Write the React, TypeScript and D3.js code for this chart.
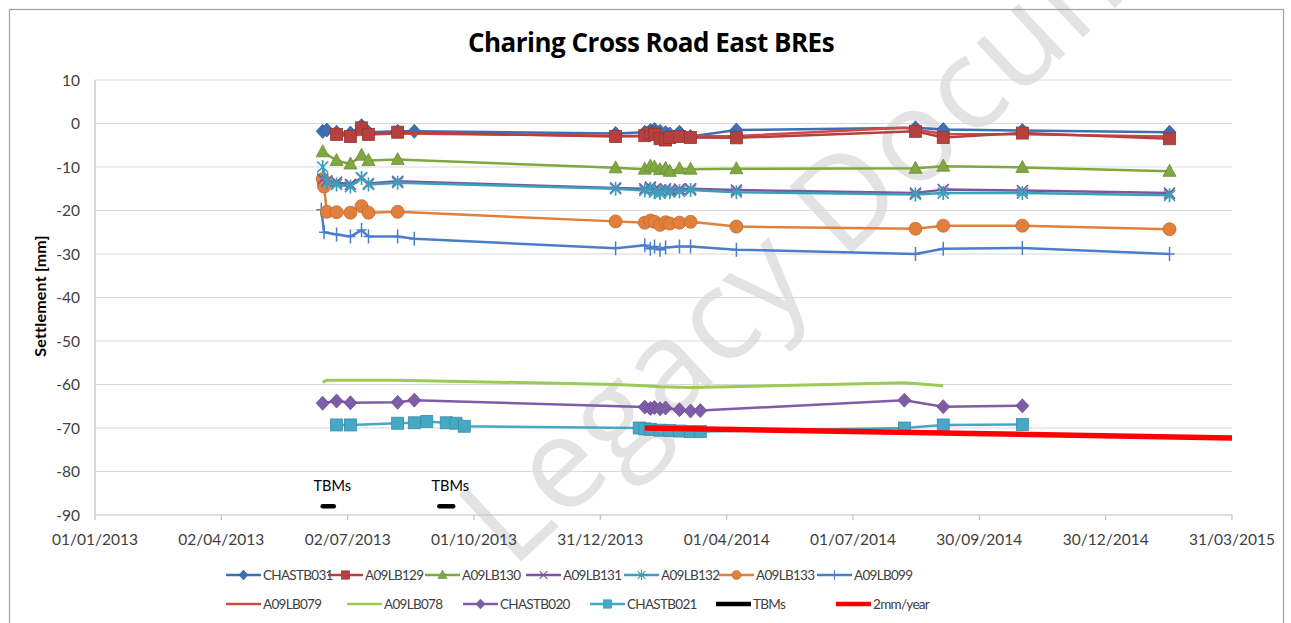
import React from "react";
import * as d3 from "d3";

// ---------- DATA ----------
const xTickStart = "2013-01-01";
const xTickStepDays = 91;
const xTickCount = 10;
const yTicks = [10, 0, -10, -20, -30, -40, -50, -60, -70, -80, -90];

const CHASTB031_dates = ["2013-06-14","2013-06-17","2013-06-24","2013-07-04","2013-07-12","2013-07-17","2013-08-07","2013-08-19","2014-01-11","2014-02-01","2014-02-05","2014-02-08","2014-02-12","2014-02-16","2014-02-19","2014-02-26","2014-03-06","2014-04-08","2014-08-15","2014-09-04","2014-10-31","2015-02-14"];
const CHASTB031_vals = [-1.8,-1.5,-2.0,-2.2,-0.5,-2.0,-1.8,-1.8,-2.3,-2.0,-1.6,-1.4,-1.8,-2.1,-2.4,-2.0,-3.0,-1.5,-1.0,-1.4,-1.6,-2.0];

const A09LB129_dates = ["2013-06-24","2013-07-04","2013-07-12","2013-07-17","2013-08-07","2014-01-11","2014-02-01","2014-02-05","2014-02-08","2014-02-12","2014-02-16","2014-02-19","2014-02-26","2014-03-06","2014-04-08","2014-08-15","2014-09-04","2014-10-31","2015-02-14"];
const A09LB129_vals = [-2.5,-3.0,-1.0,-2.5,-2.0,-3.0,-2.8,-2.2,-2.5,-3.5,-3.8,-3.2,-3.0,-3.2,-3.3,-1.8,-3.2,-2.2,-3.5];

const A09LB130_dates = ["2013-06-14","2013-06-24","2013-07-04","2013-07-12","2013-07-17","2013-08-07","2014-01-11","2014-02-01","2014-02-05","2014-02-08","2014-02-12","2014-02-16","2014-02-19","2014-02-26","2014-03-06","2014-04-08","2014-08-15","2014-09-04","2014-10-31","2015-02-14"];
const A09LB130_vals = [-6.5,-8.5,-9.3,-7.3,-8.5,-8.3,-10.2,-10.5,-9.8,-10.0,-10.6,-10.3,-11.0,-10.4,-10.5,-10.4,-10.3,-9.8,-10.1,-11.0];

const A09LB131_dates = ["2013-06-14","2013-06-17","2013-06-24","2013-07-04","2013-07-12","2013-07-17","2013-08-07","2014-01-11","2014-02-01","2014-02-05","2014-02-08","2014-02-12","2014-02-16","2014-02-19","2014-02-26","2014-03-06","2014-04-08","2014-08-15","2014-09-04","2014-10-31","2015-02-14"];
const A09LB131_vals = [-12.8,-13.2,-13.5,-14.0,-12.5,-13.8,-13.3,-14.8,-15.0,-14.6,-15.2,-15.4,-15.0,-15.3,-15.1,-15.0,-15.3,-16.0,-15.2,-15.4,-16.0];

const A09LB132_dates = A09LB131_dates;
const A09LB132_vals = [-10.0,-13.5,-14.0,-14.5,-12.5,-14.0,-13.6,-15.0,-15.4,-15.0,-15.8,-16.0,-15.5,-15.8,-15.6,-15.3,-15.8,-16.3,-16.0,-16.0,-16.5];

const A09LB133_dates = ["2013-06-14","2013-06-15","2013-06-17","2013-06-24","2013-07-04","2013-07-12","2013-07-17","2013-08-07","2014-01-11","2014-02-01","2014-02-05","2014-02-08","2014-02-12","2014-02-16","2014-02-19","2014-02-26","2014-03-06","2014-04-08","2014-08-15","2014-09-04","2014-10-31","2015-02-14"];
const A09LB133_vals = [-12.8,-14.5,-20.3,-20.4,-20.5,-19.0,-20.5,-20.3,-22.5,-22.8,-22.3,-22.6,-23.3,-22.7,-23.0,-22.8,-22.6,-23.7,-24.2,-23.5,-23.5,-24.3];

const A09LB099_dates = ["2013-06-13","2013-06-15","2013-06-24","2013-07-04","2013-07-12","2013-07-17","2013-08-07","2013-08-19","2014-01-11","2014-02-01","2014-02-05","2014-02-08","2014-02-12","2014-02-16","2014-02-26","2014-03-06","2014-04-08","2014-08-15","2014-09-04","2014-10-31","2015-02-14"];
const A09LB099_vals = [-19.8,-25.0,-25.5,-26.0,-24.5,-26.0,-26.0,-26.5,-28.7,-28.0,-28.8,-28.3,-29.0,-28.5,-28.3,-28.3,-29.0,-30.0,-28.8,-28.6,-30.0];

const A09LB079_dates = ["2013-06-24","2013-08-07","2014-01-11","2014-02-05","2014-02-19","2014-03-06","2014-04-08","2014-08-07","2014-09-04","2014-10-31","2015-02-14"];
const A09LB079_vals = [-2.8,-2.3,-2.8,-3.0,-3.2,-3.0,-2.9,-1.0,-2.4,-2.5,-3.0];

const A09LB078_dates = ["2013-06-14","2013-06-17","2013-08-07","2014-01-11","2014-02-01","2014-02-12","2014-03-06","2014-08-07","2014-09-04"];
const A09LB078_vals = [-59.5,-59.0,-59.0,-60.0,-60.3,-60.5,-60.7,-59.6,-60.3];

const CHASTB020_dates = ["2013-06-14","2013-06-24","2013-07-04","2013-08-07","2013-08-19","2014-02-01","2014-02-05","2014-02-08","2014-02-12","2014-02-16","2014-02-26","2014-03-06","2014-03-13","2014-08-07","2014-09-04","2014-10-31"];
const CHASTB020_vals = [-64.3,-63.8,-64.2,-64.1,-63.6,-65.2,-65.5,-65.3,-65.6,-65.4,-65.8,-66.1,-66.0,-63.6,-65.1,-64.9];

const CHASTB021_dates = ["2013-06-24","2013-07-04","2013-08-07","2013-08-19","2013-08-28","2013-09-11","2013-09-18","2013-09-24","2014-01-28","2014-02-01","2014-02-05","2014-02-12","2014-02-19","2014-02-26","2014-03-06","2014-03-13","2014-08-07","2014-09-04","2014-10-31"];
const CHASTB021_vals = [-69.3,-69.3,-68.9,-68.8,-68.5,-68.8,-68.9,-69.6,-70.0,-70.2,-70.3,-70.5,-70.6,-70.7,-70.8,-70.8,-70.0,-69.3,-69.2];

const TBM1_dates = ["2013-06-14","2013-06-22"];
const TBM2_dates = ["2013-09-06","2013-09-16"];
const TBM_vals = [-88, -88];
const TBM_labelValue = -83.5;

const RATE_dates = ["2014-02-01", "2015-03-31"];
const RATE_vals = [-70.0, -72.3];

// ---------- STYLE ----------
type Mk = "diamond" | "square" | "triangle" | "x" | "asterisk" | "circle" | "plus" | "none";
interface S { name: string; dates: string[]; vals: number[]; color: string; mk: Mk; w: number; }

const series: S[] = [
  { name: "A09LB078", dates: A09LB078_dates, vals: A09LB078_vals, color: "#9ACB57", mk: "none", w: 3 },
  { name: "CHASTB020", dates: CHASTB020_dates, vals: CHASTB020_vals, color: "#7E5CA8", mk: "diamond", w: 2.5 },
  { name: "CHASTB021", dates: CHASTB021_dates, vals: CHASTB021_vals, color: "#45A9C6", mk: "square", w: 2.5 },
  { name: "A09LB099", dates: A09LB099_dates, vals: A09LB099_vals, color: "#4A7ECB", mk: "plus", w: 2.5 },
  { name: "A09LB133", dates: A09LB133_dates, vals: A09LB133_vals, color: "#E2803B", mk: "circle", w: 2.5 },
  { name: "A09LB131", dates: A09LB131_dates, vals: A09LB131_vals, color: "#7B55A0", mk: "x", w: 2.5 },
  { name: "A09LB132", dates: A09LB132_dates, vals: A09LB132_vals, color: "#3C9EB9", mk: "asterisk", w: 2.5 },
  { name: "A09LB130", dates: A09LB130_dates, vals: A09LB130_vals, color: "#80A840", mk: "triangle", w: 2.5 },
  { name: "CHASTB031", dates: CHASTB031_dates, vals: CHASTB031_vals, color: "#3E6FB3", mk: "diamond", w: 2.5 },
  { name: "A09LB079", dates: A09LB079_dates, vals: A09LB079_vals, color: "#D04848", mk: "none", w: 2.5 },
  { name: "A09LB129", dates: A09LB129_dates, vals: A09LB129_vals, color: "#B5403D", mk: "square", w: 2.5 },
];

const legendRow1 = [
  { name: "CHASTB031", color: "#3E6FB3", mk: "diamond" as Mk, w: 2.5, x: 226 },
  { name: "A09LB129", color: "#B5403D", mk: "square" as Mk, w: 2.5, x: 328 },
  { name: "A09LB130", color: "#80A840", mk: "triangle" as Mk, w: 2.5, x: 425 },
  { name: "A09LB131", color: "#7B55A0", mk: "x" as Mk, w: 2.5, x: 526 },
  { name: "A09LB132", color: "#3C9EB9", mk: "asterisk" as Mk, w: 2.5, x: 624 },
  { name: "A09LB133", color: "#E2803B", mk: "circle" as Mk, w: 2.5, x: 719 },
  { name: "A09LB099", color: "#4A7ECB", mk: "plus" as Mk, w: 2.5, x: 817 },
];
const legendRow2 = [
  { name: "A09LB079", color: "#D04848", mk: "none" as Mk, w: 2.5, x: 226 },
  { name: "A09LB078", color: "#9ACB57", mk: "none" as Mk, w: 2.5, x: 347 },
  { name: "CHASTB020", color: "#7E5CA8", mk: "diamond" as Mk, w: 2.5, x: 463 },
  { name: "CHASTB021", color: "#45A9C6", mk: "square" as Mk, w: 2.5, x: 590 },
  { name: "TBMs", color: "#000000", mk: "none" as Mk, w: 4.5, x: 716 },
  { name: "2mm/year", color: "#FF0000", mk: "none" as Mk, w: 4.5, x: 836 },
];

const FONT = "Lato, 'Open Sans', sans-serif";

function darker(c: string) {
  return d3.color(c)!.darker(0.5).formatHex();
}

function Marker({ mk, x, y, color, s = 1 }: { mk: Mk; x: number; y: number; color: string; s?: number }) {
  const dk = darker(color);
  const t = `translate(${x},${y}) scale(${s})`;
  switch (mk) {
    case "diamond":
      return <path transform={t} d="M0,-7L6.5,0L0,7L-6.5,0Z" fill={color} stroke={dk} strokeWidth={0.8} />;
    case "square":
      return <rect transform={t} x={-6} y={-6} width={12} height={12} fill={color} stroke={dk} strokeWidth={0.8} />;
    case "triangle":
      return <path transform={t} d="M0,-7L6.5,5L-6.5,5Z" fill={color} stroke={dk} strokeWidth={0.8} />;
    case "circle":
      return <circle transform={t} r={6.5} fill={color} stroke={dk} strokeWidth={0.8} />;
    case "x":
      return <path transform={t} d="M-5.5,-5.5L5.5,5.5M-5.5,5.5L5.5,-5.5" stroke={color} strokeWidth={1.7} fill="none" />;
    case "asterisk":
      return <path transform={t} d="M-5.5,-5.5L5.5,5.5M-5.5,5.5L5.5,-5.5M0,-7L0,7" stroke={color} strokeWidth={1.7} fill="none" />;
    case "plus":
      return <path transform={t} d="M0,-7L0,7M-5,0L5,0" stroke={color} strokeWidth={1.5} fill="none" />;
    default:
      return null;
  }
}

export default function App() {
  const W = 1291, H = 623;
  const parse = d3.utcParse("%Y-%m-%d");
  const start = parse(xTickStart)!;
  const xTicks = d3.range(xTickCount).map((i) => d3.utcDay.offset(start, xTickStepDays * i));
  const x = d3.scaleUtc().domain([xTicks[0], xTicks[xTicks.length - 1]]).range([95, 1232]);
  const y = d3.scaleLinear().domain([-90, 10]).range([515, 80]);
  const fmt = d3.utcFormat("%d/%m/%Y");

  const line = d3
    .line<[Date, number]>()
    .x((d) => x(d[0]))
    .y((d) => y(d[1]));

  const pts = (dates: string[], vals: number[]) =>
    dates.map((d, i) => [parse(d)!, vals[i]] as [Date, number]);

  return (
    <svg
      width={W}
      height={H}
      style={{ position: "absolute", left: 0, top: 0, background: "#fff" }}
      fontFamily={FONT}
    >
      <rect x={0} y={0} width={W} height={H} fill="#fff" />

      {/* watermark */}
      <text
        transform="translate(512,570) rotate(-43)"
        fontSize={128}
        fill="#C8C8C8"
        fillOpacity={0.5}
        fontFamily="'Open Sans', sans-serif"
        letterSpacing={2}
      >
        Legacy Document
      </text>

      <rect x={9.5} y={9.5} width={1274} height={640} fill="none" stroke="#A0A0A0" strokeWidth={1.2} />

      {/* title */}
      <text x={651} y={52} textAnchor="middle" fontSize={26} fontWeight="bold" fill="#000" fontFamily="'Open Sans', Lato, sans-serif" letterSpacing={-0.5}>
        Charing Cross Road East BREs
      </text>

      {/* gridlines */}
      {yTicks.map((t) => (
        <line key={t} x1={95} x2={1232} y1={y(t)} y2={y(t)} stroke={t === -90 ? "#BFBFBF" : "#D9D9D9"} strokeWidth={1.2} />
      ))}
      <line x1={95} x2={95} y1={80} y2={515} stroke="#BFBFBF" strokeWidth={1.2} />
      {xTicks.map((t, i) => (
        <line key={i} x1={x(t)} x2={x(t)} y1={515} y2={520} stroke="#BFBFBF" strokeWidth={1.2} />
      ))}

      {/* y tick labels */}
      {yTicks.map((t) => (
        <text key={t} x={80} y={y(t) + 5.5} textAnchor="end" fontSize={15.5} fill="#404040">
          {t}
        </text>
      ))}
      {/* x tick labels */}
      {xTicks.map((t, i) => (
        <text key={i} x={x(t)} y={545} textAnchor="middle" fontSize={15.5} fill="#404040">
          {fmt(t)}
        </text>
      ))}

      <text transform={`translate(46,296) rotate(-90)`} textAnchor="middle" fontSize={16} fontWeight="bold" fill="#000" letterSpacing={0.2}>
        Settlement [mm]
      </text>

      {/* series */}
      {series.map((s) => {
        const p = pts(s.dates, s.vals);
        return (
          <g key={s.name}>
            <path d={line(p)!} fill="none" stroke={s.color} strokeWidth={s.w} strokeLinejoin="round" />
            {p.map((d, i) => (
              <Marker key={i} mk={s.mk} x={x(d[0])} y={y(d[1])} color={s.color} />
            ))}
          </g>
        );
      })}

      {/* 2mm/year */}
      <path d={line(pts(RATE_dates, RATE_vals))!} fill="none" stroke="#FF0000" strokeWidth={5.5} />

      {/* TBMs */}
      {[TBM1_dates, TBM2_dates].map((ds, i) => {
        const p = pts(ds, TBM_vals);
        const cx = (x(p[0][0]) + x(p[1][0])) / 2;
        return (
          <g key={i}>
            <path d={line(p)!} fill="none" stroke="#000" strokeWidth={4.5} strokeLinecap="round" />
            <text x={cx + 4} y={y(TBM_labelValue) + 4} textAnchor="middle" fontSize={14.5} fill="#000">
              TBMs
            </text>
          </g>
        );
      })}

      {/* legend */}
      {[legendRow1, legendRow2].map((row, r) =>
        row.map((it) => {
          const ly = r === 0 ? 575 : 604;
          return (
            <g key={it.name}>
              <line x1={it.x} x2={it.x + 35} y1={ly} y2={ly} stroke={it.color} strokeWidth={it.w} />
              <Marker mk={it.mk} x={it.x + 17.5} y={ly} color={it.color} s={0.7} />
              <text x={it.x + 37} y={ly + 5} fontSize={13.5} fill="#404040" letterSpacing={-0.7}>
                {it.name}
              </text>
            </g>
          );
        })
      )}
    </svg>
  );
}
